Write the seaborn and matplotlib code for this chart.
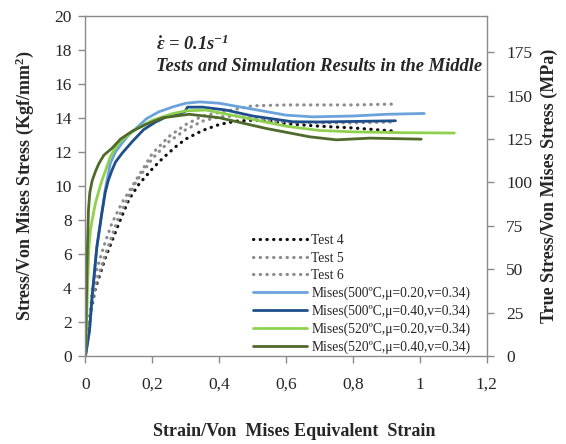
import matplotlib
matplotlib.use("Agg")
import matplotlib.pyplot as plt
import seaborn as sns
import numpy as np
import pandas as pd

# ---------------- data ----------------
test4_x = [0, 0.01, 0.03, 0.06, 0.10, 0.13, 0.16, 0.20, 0.23, 0.27, 0.30, 0.35, 0.40, 0.45, 0.50, 0.55, 0.60, 0.70, 0.80, 0.90, 0.93]
test4_y = [0, 2.0, 4.0, 5.8, 7.8, 9.2, 10.1, 11.0, 11.6, 12.3, 12.75, 13.25, 13.6, 13.8, 13.85, 13.8, 13.65, 13.5, 13.4, 13.25, 13.2]

test5_x = [0, 0.01, 0.02, 0.034, 0.054, 0.079, 0.109, 0.139, 0.169, 0.20, 0.25, 0.30, 0.35, 0.40, 0.45, 0.50, 0.60, 0.70, 0.80, 0.92]
test5_y = [0, 1.5, 3.9, 5.1, 6.4, 7.8, 9.0, 9.95, 10.9, 11.9, 12.9, 13.6, 14.1, 14.3, 14.5, 14.7, 14.75, 14.75, 14.75, 14.8]

test6_x = [0, 0.01, 0.03, 0.06, 0.10, 0.15, 0.20, 0.25, 0.30, 0.35, 0.40, 0.45, 0.50, 0.55, 0.60, 0.70, 0.80, 0.92]
test6_y = [0, 2.1, 4.2, 6.0, 8.2, 10.2, 11.6, 12.6, 13.3, 13.8, 14.05, 14.1, 13.95, 13.8, 13.75, 13.7, 13.7, 13.75]

m500_020_x = [0, 0.012, 0.02, 0.034, 0.049, 0.059, 0.074, 0.09, 0.109, 0.13, 0.15, 0.183, 0.22, 0.262, 0.30, 0.342, 0.40, 0.50, 0.60, 0.68, 0.80, 0.90, 1.013]
m500_020_y = [0, 1.5, 3.5, 6.4, 8.4, 9.75, 11.3, 12.0, 12.5, 13.0, 13.35, 13.95, 14.35, 14.64, 14.85, 14.93, 14.85, 14.5, 14.15, 14.05, 14.1, 14.2, 14.25]

m500_040_x = [0, 0.012, 0.02, 0.034, 0.049, 0.059, 0.068, 0.079, 0.09, 0.109, 0.14, 0.174, 0.21, 0.242, 0.297, 0.305, 0.35, 0.42, 0.50, 0.62, 0.70, 0.80, 0.927]
m500_040_y = [0, 1.5, 3.5, 6.4, 8.4, 9.6, 10.3, 10.9, 11.4, 11.9, 12.6, 13.3, 13.75, 14.05, 14.35, 14.62, 14.62, 14.45, 14.1, 13.76, 13.75, 13.78, 13.82]

m520_020_x = [0, 0.004, 0.007, 0.01, 0.015, 0.022, 0.03, 0.04, 0.049, 0.06, 0.074, 0.09, 0.109, 0.149, 0.20, 0.262, 0.30, 0.36, 0.45, 0.60, 0.70, 0.80, 0.95, 1.103]
m520_020_y = [0, 2.5, 4.5, 6.3, 7.4, 8.2, 9.0, 9.7, 10.3, 10.9, 11.7, 12.25, 12.7, 13.3, 13.85, 14.25, 14.4, 14.45, 14.1, 13.5, 13.25, 13.17, 13.12, 13.1]

m520_040_x = [0, 0.003, 0.006, 0.009, 0.013, 0.02, 0.03, 0.04, 0.055, 0.079, 0.105, 0.139, 0.18, 0.232, 0.31, 0.40, 0.54, 0.67, 0.75, 0.85, 1.004]
m520_040_y = [0, 3.5, 6.5, 8.6, 9.6, 10.3, 10.85, 11.3, 11.8, 12.2, 12.75, 13.2, 13.6, 14.0, 14.2, 14.0, 13.37, 12.88, 12.7, 12.8, 12.74]

labels = ["Test 4", "Test 5", "Test 6",
          "Mises(500ºC,μ=0.20,v=0.34)", "Mises(500ºC,μ=0.40,v=0.34)",
          "Mises(520ºC,μ=0.20,v=0.34)", "Mises(520ºC,μ=0.40,v=0.34)"]
x_ticks = [0, 0.2, 0.4, 0.6, 0.8, 1.0, 1.2]
x_ticklabels = ["0", "0,2", "0,4", "0,6", "0,8", "1", "1,2"]
y_ticks = [0, 2, 4, 6, 8, 10, 12, 14, 16, 18, 20]
y2_ticks = [0, 25, 50, 75, 100, 125, 150, 175]

# ---------------- style ----------------
sns.set_theme(style="white")
plt.rcParams['font.family'] = ['Liberation Serif', 'DejaVu Serif']
plt.rcParams['mathtext.fontset'] = 'custom'
plt.rcParams['mathtext.rm'] = 'Liberation Serif:bold:italic'
plt.rcParams['mathtext.it'] = 'Liberation Serif:bold:italic'
plt.rcParams['mathtext.bf'] = 'Liberation Serif:bold:italic'

fig = plt.figure(figsize=(5.66, 4.44), dpi=100)
ax = fig.add_axes([0.151, 0.198, 0.709, 0.767])

series = [
    (test4_x, test4_y, "#111111", "dot"),
    (test5_x, test5_y, "#8c8c8c", "dot"),
    (test6_x, test6_y, "#8c8c8c", "dot"),
    (m500_020_x, m500_020_y, "#6aa3dc", "solid"),
    (m500_040_x, m500_040_y, "#1f4f8a", "solid"),
    (m520_020_x, m520_020_y, "#8fd14f", "solid"),
    (m520_040_x, m520_040_y, "#4f6a2a", "solid"),
]

for (xs, ys, col, st), lab in zip(series, labels):
    df = pd.DataFrame({"x": xs, "y": ys})
    if st == "dot":
        sns.lineplot(data=df, x="x", y="y", ax=ax, color=col, label=lab,
                     linewidth=2.3, linestyle=(0, (0.1, 2.0)),
                     dash_capstyle="round", sort=False, estimator=None)
    else:
        sns.lineplot(data=df, x="x", y="y", ax=ax, color=col, label=lab,
                     linewidth=2.0, sort=False, estimator=None)

ax.set_xlim(0, 1.2)
ax.set_ylim(0, 20)
ax.set_xticks(x_ticks)
ax.set_xticklabels(x_ticklabels)
ax.set_yticks(y_ticks)
spine_col = "#8a8a8a"
for s in ax.spines.values():
    s.set_visible(True)
    s.set_color(spine_col)
    s.set_linewidth(1.0)
ax.tick_params(axis="y", direction="out", length=5, width=1, color=spine_col,
               labelsize=12.5, pad=5, left=True)
ax.tick_params(axis="x", direction="out", length=5, width=1, color=spine_col,
               labelsize=12.5, pad=10, bottom=True)
ax.set_xlabel("Strain/Von  Mises Equivalent  Strain", fontsize=13, fontweight="bold")
ax.xaxis.set_label_coords(0.52, -0.222)
ax.xaxis.label.set_verticalalignment("center")
ax.set_ylabel("Stress/Von Mises Stress (Kgf/mm$^{\\mathregular{2}}$)", fontsize=13, fontweight="bold", labelpad=13)

ax2 = ax.twinx()
ax2.set_ylim(0, 20 * 9.80665)
ax2.set_yticks(y2_ticks)
for s in ax2.spines.values():
    s.set_visible(False)
ax2.tick_params(axis="y", direction="out", length=5, width=1, color=spine_col,
                labelsize=12.5, pad=9, right=True)
ax2.set_ylabel("True Stress/Von Mises Stress (MPa)", fontsize=13, fontweight="bold", labelpad=6)
ax2.grid(False)
ax.grid(False)

ax.text(0.175, 0.915, r"$\dot{\varepsilon}$ = 0.1s$^{-1}$", transform=ax.transAxes,
        fontsize=13.3, fontweight="bold", fontstyle="italic", va="center")
ax.text(0.175, 0.851, "Tests and Simulation Results in the Middle", transform=ax.transAxes,
        fontsize=13.3, fontweight="bold", fontstyle="italic", va="center")

leg = ax.legend(loc="lower left", bbox_to_anchor=(0.393, -0.022), frameon=False,
                fontsize=9.8, handlelength=4.0, handletextpad=0.3, labelspacing=0.33,
                borderpad=0.2)

fig.savefig("out.png", dpi=100)
